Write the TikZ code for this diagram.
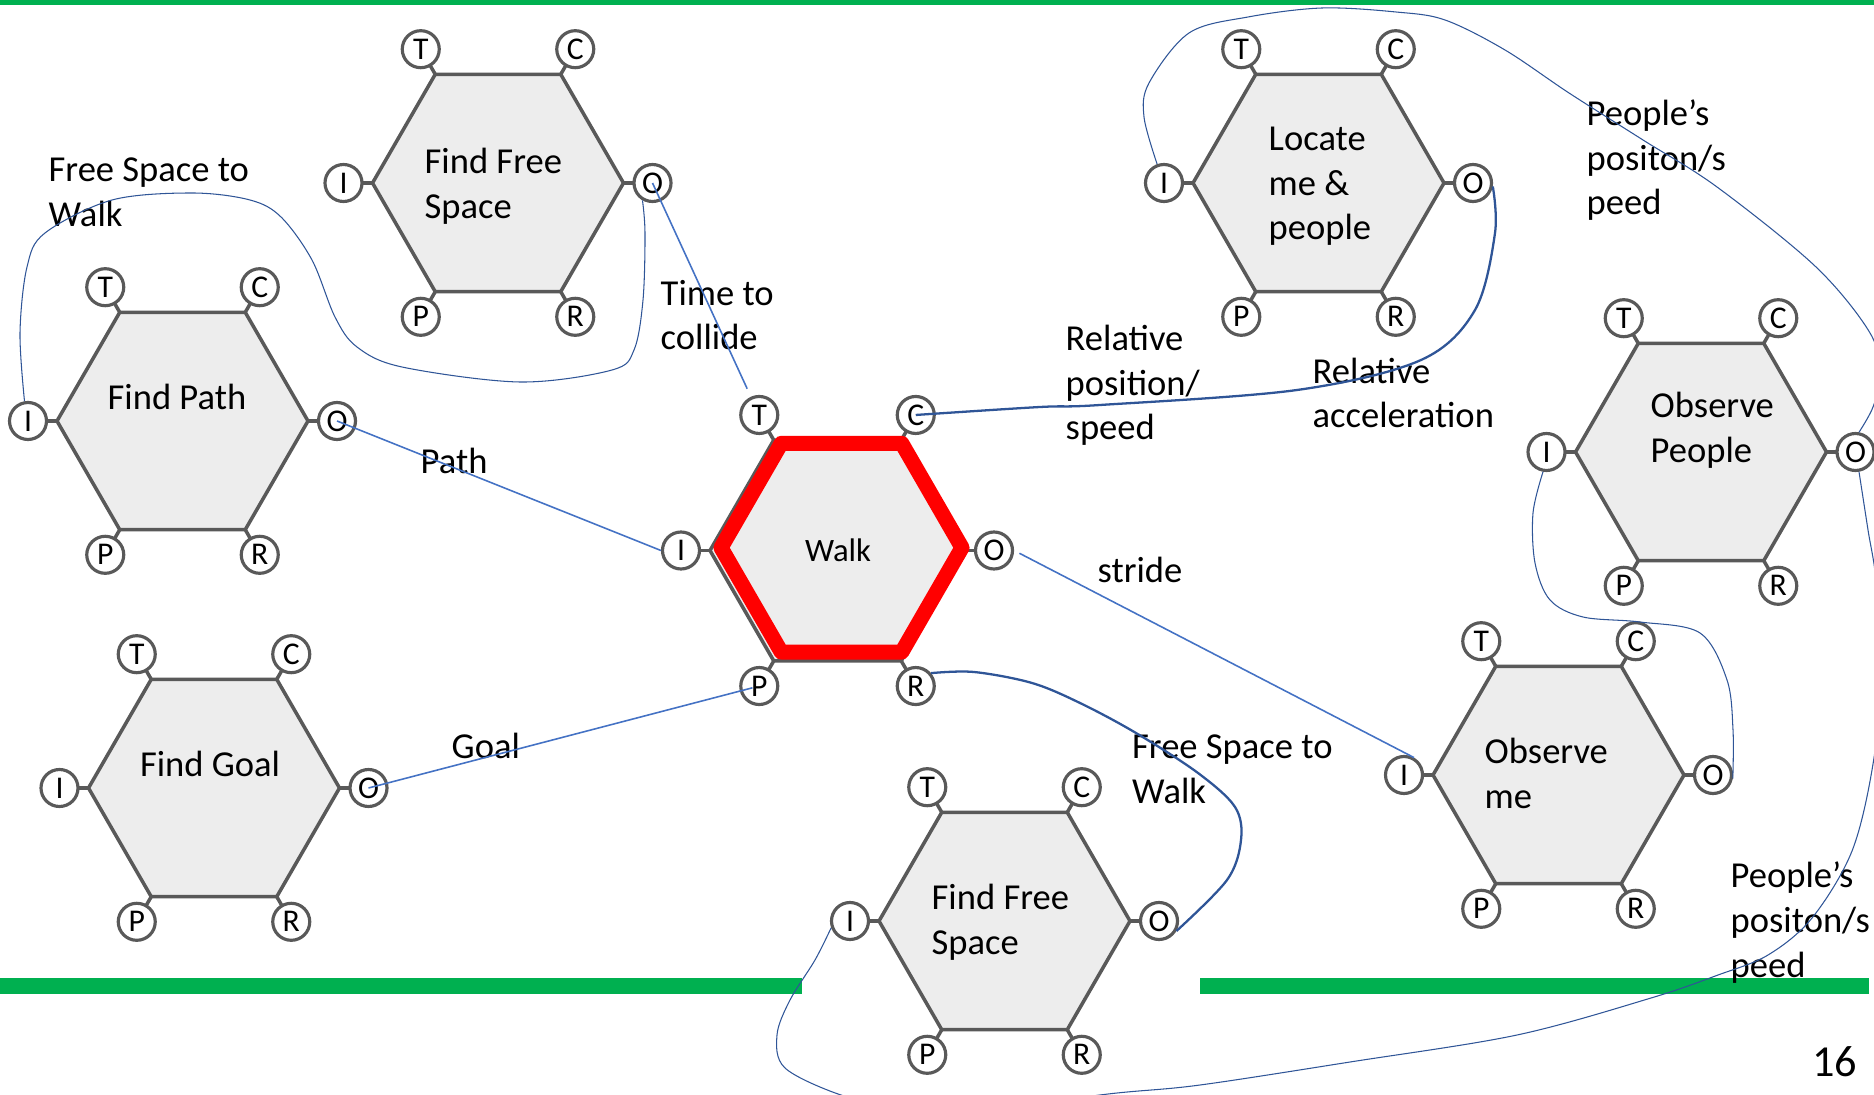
\documentclass[tikz,border=0pt]{standalone}
\usepackage{fontspec}
\setmainfont{Carlito}
\usetikzlibrary{shapes.geometric}

\definecolor{hexline}{HTML}{595959}
\definecolor{hexfill}{HTML}{EDEDED}
\definecolor{feedblue}{HTML}{4472C4}
\definecolor{wireblue}{HTML}{2F5597}
\definecolor{bargreen}{HTML}{00B050}

\tikzset{
  hexbody/.style = {regular polygon, regular polygon sides=6,
    minimum size=2.51cm, inner sep=0pt, outer sep=0pt, draw=hexline, fill=hexfill, line width=1pt},
  walkring/.style = {regular polygon, regular polygon sides=6,
    minimum size=2.41cm, inner sep=0pt, outer sep=0pt, draw=red, line width=4.3pt, line join=round},
  port/.style = {circle, draw=hexline, fill=white, line width=0.9pt, minimum size=0.37cm,
    inner sep=0pt, font=\fontsize{9}{9}\selectfont},
  stub/.style = {draw=hexline, line width=1pt},
  hextext/.style = {anchor=base west, align=left, inner sep=0pt, font=\fontsize{10.4}{12.8}\selectfont},
  note/.style = {hextext},
  feed/.style = {draw=feedblue, line width=0.45pt},
  wire/.style = {draw=wireblue, line width=0.3pt},
  wirebold/.style = {draw=wireblue, line width=0.65pt},
}

\newcommand{\hexunit}[3][]{%
  \node[hexbody, #1] (#2) at (#3) {};
  \foreach \p/\a in {T/120, I/180, P/240, R/300, O/0, C/60}{
    \draw[stub] (#2.\a) -- ++(\a:0.12);
    \node[port] (#2\p) at ([shift={(\a:0.29)}]#2.\a) {\p};
  }
}

\begin{document}
\begin{tikzpicture}
  \useasboundingbox (0,0) rectangle (18.74,-10.95);
  \fill[bargreen] (0,0) rectangle (18.74,-0.047);
  \fill[bargreen] (0,-9.78) rectangle (8.02,-9.94);
  \fill[bargreen] (12.0,-9.78) rectangle (18.69,-9.94);

  \hexunit{ffsa}{4.98,-1.83}
  \hexunit{fpath}{1.825,-4.21}
  \hexunit{fgoal}{2.14,-7.88}
  \hexunit[minimum size=2.55cm]{walk}{8.375,-5.505}
  \hexunit{locate}{13.185,-1.83}
  \hexunit{obsp}{17.01,-4.52}
  \hexunit{obsme}{15.585,-7.75}
  \hexunit{ffsb}{10.045,-9.21}
  \node[walkring] (walkred) at (8.415,-5.477) {};

  \node[hextext] (ffsatxt) at (4.24,-2.183) {Find Free\\Space};
  \node[hextext] (fpathtxt) at (1.07,-4.096) {Find Path};
  \node[hextext] (fgoaltxt) at (1.393,-7.765) {Find Goal};
  \node[font=\fontsize{9.3}{11}\selectfont] (walktxt) at (8.38,-5.50) {Walk};
  \node[hextext] (locatetxt) at (12.68,-2.40) {Locate\\me \&\\people};
  \node[hextext] (obsptxt) at (16.50,-4.623) {Observe\\People};
  \node[hextext] (obsmetxt) at (14.84,-8.082) {Observe\\me};
  \node[hextext] (ffsbtxt) at (9.31,-9.543) {Find Free\\Space};

  \node[note] (fswa) at (0.48,-2.267) {Free Space to\\Walk};
  \node[note] (ttc) at (6.60,-3.50) {Time to\\collide};
  \node[note] (pathlbl) at (4.20,-4.735) {Path};
  \node[note] (goallbl) at (4.51,-7.585) {Goal};
  \node[note] (relpos) at (10.65,-4.40) {Relative\\position/\\speed};
  \node[note] (relacc) at (13.12,-4.28) {Relative\\acceleration};
  \node[note] (ppsa) at (15.86,-2.15) {People’s\\positon/s\\peed};
  \node[note] (stride) at (10.97,-5.82) {stride};
  \node[note] (fswb) at (11.315,-8.03) {Free Space to\\Walk};
  \node[note] (ppsb) at (17.30,-9.77) {People’s\\positon/s\\peed};
  \node[note, anchor=base east, font=\fontsize{12.6}{15}\selectfont] (pagenum) at (18.58,-10.76) {16};

  \draw[feed, shorten >=2.5pt] (ffsaO.center) -- (walkT);
  \draw[feed] (fpathO.center) -- (walkI.west);
  \draw[feed, shorten >=0.7mm] (fgoalO.center) -- (walkP.center);
  \draw[feed, shorten <=0.6mm] (walkO.east) -- (obsmeI.60);

  \draw[wire] plot[smooth, tension=0.55] coordinates {(ffsaO.240) (6.45,-2.33) (6.43,-3.0)
    (6.34,-3.5) (6.12,-3.70) (5.2,-3.82) (4.02,-3.67) (3.57,-3.47) (3.35,-3.17) (3.12,-2.6)
    (2.81,-2.17) (2.5,-2.0) (1.92,-1.93) (1.12,-2.0) (0.45,-2.33) (0.27,-2.67) (0.2,-3.33)
    (fpathI.100)};
  \draw[wirebold] plot[smooth, tension=0.55] coordinates {(walkC.center) (10.4,-4.07)
    (11.0,-4.05) (12.97,-3.9) (14.21,-3.6) (14.75,-3.1) (14.95,-2.33) (locateO.-10)};
  \draw[wire] plot[smooth, tension=0.55] coordinates {(locateI.110) (11.44,-1.17) (11.49,-0.83)
    (11.89,-0.33) (12.48,-0.17) (13.22,-0.08) (13.96,-0.12) (14.45,-0.2) (15.05,-0.5)
    (15.69,-0.93) (16.43,-1.4) (17.17,-1.87) (18.16,-2.67) (18.7,-3.33) (18.8,-3.75)
    (18.73,-4.07) (obspO.80)};
  \draw[wire] plot[smooth, tension=0.55] coordinates {(obspO.-80) (18.68,-5.3) (18.76,-5.8)
    (18.82,-6.7) (18.73,-7.64) (18.52,-8.51) (18.12,-9.18) (17.68,-9.55) (17.18,-9.75)
    (16.51,-9.98) (15.17,-10.35) (13.5,-10.62) (12.0,-10.85) (11.17,-10.93) (10.0,-11.06)
    (8.9,-11.03) (8.41,-10.95) (7.85,-10.68) (7.77,-10.35) (7.9,-10.0) (8.15,-9.6) (ffsbI.200)};
  \draw[wirebold] plot[smooth, tension=0.55] coordinates {(walkR.40) (9.74,-6.72) (10.32,-6.83)
    (10.8,-7.03) (11.36,-7.33) (11.98,-7.73) (12.35,-8.07) (12.41,-8.4) (12.27,-8.8) (ffsbO.-30)};
  \draw[wire] plot[smooth, tension=0.55] coordinates {(obspI.-100) (15.33,-5.13) (15.35,-5.63)
    (15.5,-6.0) (15.83,-6.17) (16.4,-6.22) (17.0,-6.33) (17.27,-6.8) (17.33,-7.3) (obsmeO.-10)};
\end{tikzpicture}
\end{document}
